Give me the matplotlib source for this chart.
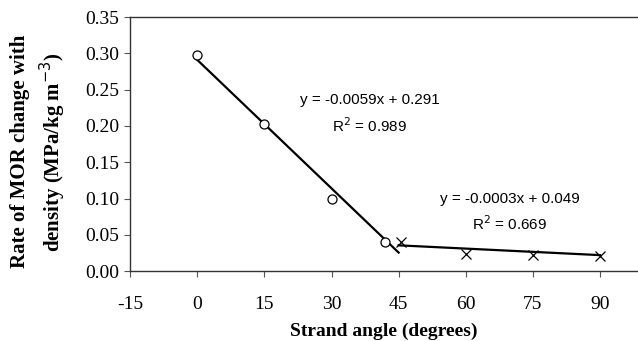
import matplotlib
matplotlib.use("Agg")
import matplotlib.pyplot as plt
import numpy as np

# data
circ_x = [0, 15, 30, 42]
circ_y = [0.298, 0.203, 0.099, 0.040]
cross_x = [45.5, 60, 75, 90]
cross_y = [0.040, 0.023, 0.022, 0.021]

fit1 = (-0.0059, 0.291, 0, 45)
fit2 = (-0.0003, 0.049, 45, 90)

xticks = [-15, 0, 15, 30, 45, 60, 75, 90]
yticks = [0.00, 0.05, 0.10, 0.15, 0.20, 0.25, 0.30, 0.35]

fig = plt.figure(figsize=(6.38, 3.41), dpi=100)
ax = fig.add_axes([0.204, 0.205, 0.796, 0.745])

for m, b, x0, x1 in (fit1, fit2):
    xs = np.array([x0, x1])
    ax.plot(xs, m * xs + b, color="black", lw=1.6, zorder=2)

ax.plot(circ_x, circ_y, "o", mfc="white", mec="black", ms=6.5, mew=0.9, zorder=3)
ax.plot(cross_x, cross_y, "x", color="black", ms=7.5, mew=0.9, zorder=3)

eq_font = dict(ha="center", va="center", family="Liberation Sans", fontsize=11)
ax.text(38.6, 0.236, "y = -0.0059x + 0.291", **eq_font)
ax.text(38.6, 0.201, "R$^2$ = 0.989", **eq_font)
ax.text(69.9, 0.099, "y = -0.0003x + 0.049", **eq_font)
ax.text(69.9, 0.066, "R$^2$ = 0.669", **eq_font)

ax.set_xlim(-15, 98.5)
ax.set_ylim(0, 0.35)
ax.set_xticks(xticks)
ax.set_xticklabels([str(t) for t in xticks])
ax.set_yticks(yticks)
ax.set_yticklabels(["%.2f" % t for t in yticks])
for lab in ax.get_xticklabels() + ax.get_yticklabels():
    lab.set_family("Liberation Serif")
    lab.set_fontsize(14)
ax.tick_params(direction="out", length=4, width=0.8, color="#555555")
ax.tick_params(axis="y", pad=4)
ax.tick_params(axis="x", pad=14)

ax.spines["right"].set_visible(False)
for s in ("left", "top", "bottom"):
    ax.spines[s].set_color("#333333")
    ax.spines[s].set_linewidth(1.0)

ax.set_xlabel("Strand angle (degrees)", family="Liberation Serif",
              fontweight="bold", fontsize=14, labelpad=7)
ax.set_ylabel("Rate of MOR change with\ndensity (MPa/kg m$^{-3}$)",
              family="Liberation Serif", fontweight="bold", fontsize=15,
              linespacing=1.35)
ax.yaxis.set_label_coords(-0.122, 0.47)

fig.savefig("out.png", dpi=100)
